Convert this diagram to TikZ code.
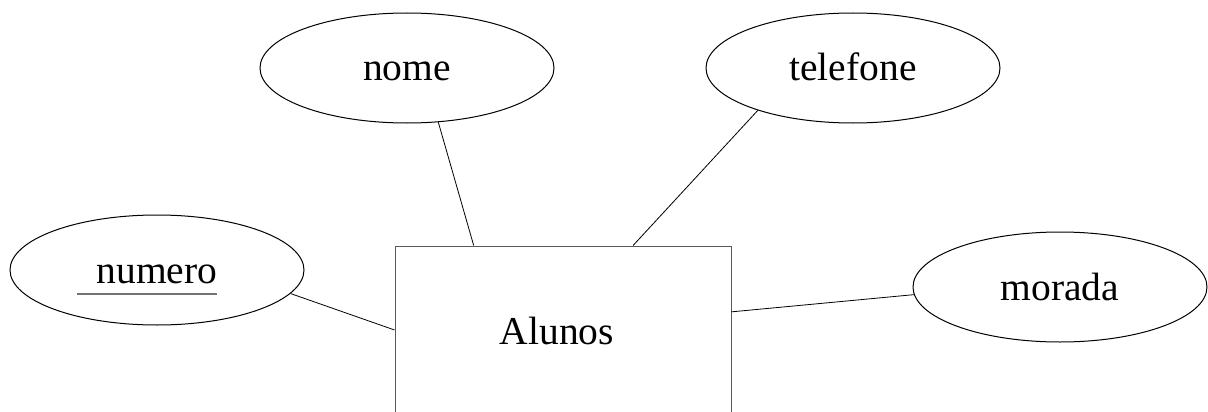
\documentclass[tikz,border=0pt]{standalone}
\usepackage{fontspec}
\setmainfont{Liberation Serif}
\usetikzlibrary{shapes.geometric,calc}
\begin{document}
\begin{tikzpicture}[x=1pt,y=-1pt,
  lbl/.style={font=\fontsize{39.5}{47}\selectfont,text height=30pt,text depth=4pt},
  attr/.style={lbl,draw=black,line width=1pt,ellipse,minimum width=294pt,minimum height=110pt,inner sep=0pt},
  ent/.style={lbl,draw=black!65,line width=1pt,rectangle,minimum width=336pt,minimum height=170pt,inner sep=0pt},
  conn/.style={draw=black,line width=0.8pt}]
\useasboundingbox (0,0) rectangle (1208,412);
\clip (0,0) rectangle (1208,412);
\node[ent] (alunos) at (563,331) {\hspace*{-12pt}Alunos};
\node[attr] (nome) at (407,68) {nome};
\node[attr] (telefone) at (853,68) {telefone};
\node[attr] (numero) at (157,270) {numero};
\node[attr] (morada) at (1060,287) {morada};
\draw[draw=black!55,line width=1.2pt] (77,294) coordinate (ul1) -- (217,294) coordinate (ul2);
\draw[conn] (nome.-60.6) -- ($(alunos.north west)!0.235!(alunos.north east)$);
\draw[conn] (telefone.204.6) -- ($(alunos.north west)!0.708!(alunos.north east)$);
\draw[conn] (numero.-10.5) -- ($(alunos.north west)!0.494!(alunos.south west)$);
\draw[conn] ($(alunos.north east)!0.388!(alunos.south east)$) -- (morada.183);
\end{tikzpicture}
\end{document}
